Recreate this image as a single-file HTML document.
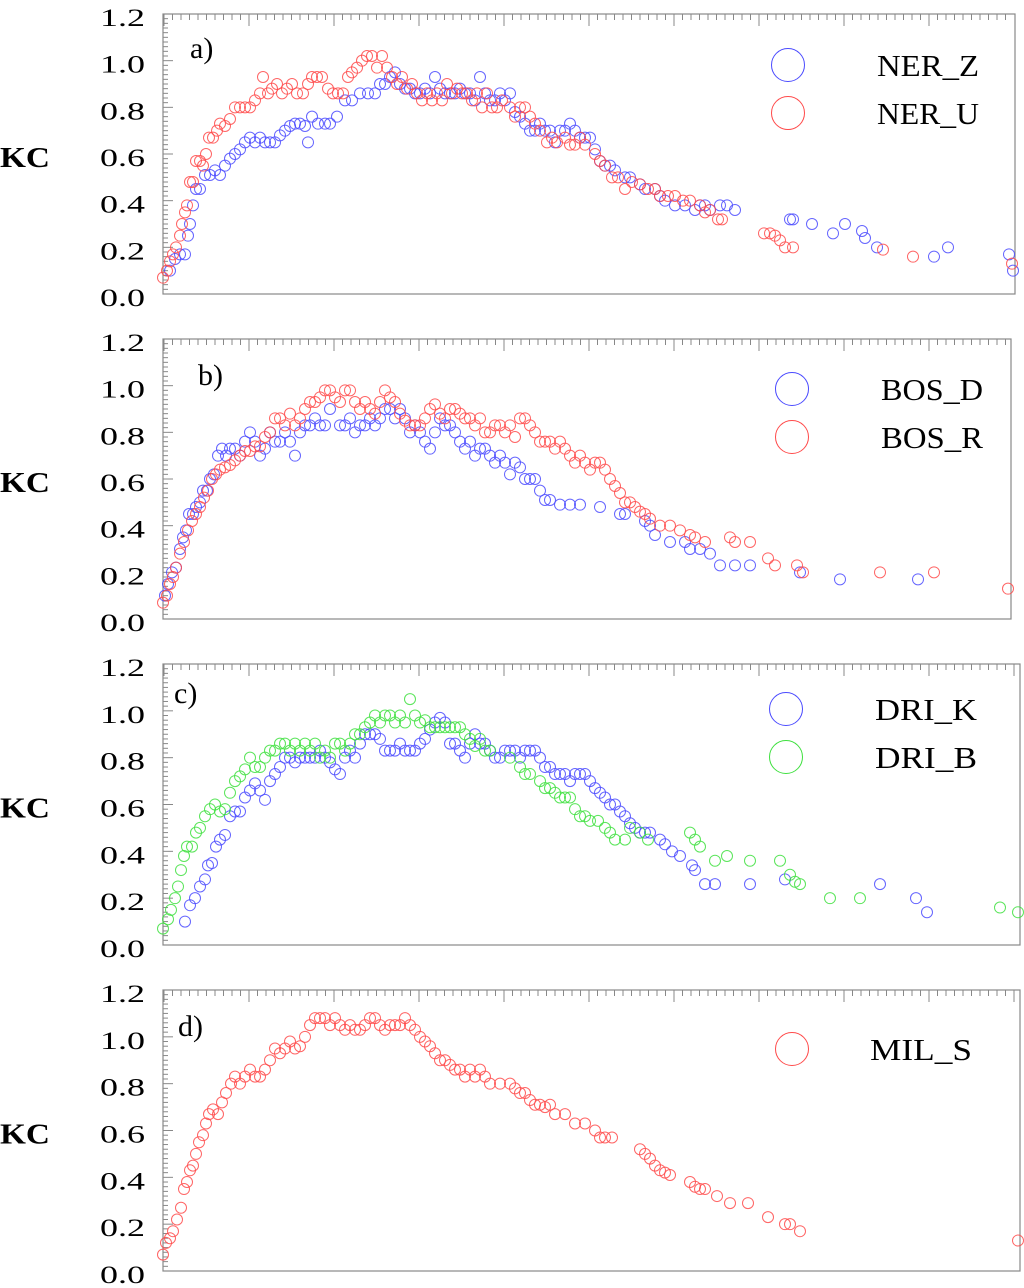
<!DOCTYPE html>
<html><head><meta charset="utf-8"><style>
body{margin:0;background:#fff}
svg{display:block}
text{font-family:"Liberation Serif",serif}
</style></head><body>
<svg id="chart" width="1024" height="1288" viewBox="0 0 1024 1288"></svg>
<script>
// Data: x = time index (domain 163..1015), y = KC
const nerZ=[[170,0.1],[175,0.15],[180,0.17],[185,0.17],[188,0.25],[190,0.3],[193,0.38],[196,0.45],[200,0.45],[205,0.51],[210,0.51],[215,0.53],[220,0.51],[225,0.55],[230,0.58],[235,0.6],[240,0.62],[245,0.65],[250,0.67],[255,0.65],[260,0.67],[265,0.65],[270,0.65],[275,0.65],[280,0.68],[285,0.7],[290,0.72],[295,0.73],[300,0.73],[305,0.72],[308,0.65],[312,0.76],[318,0.73],[325,0.73],[330,0.73],[337,0.76],[345,0.83],[352,0.83],[360,0.86],[368,0.86],[375,0.86],[380,0.9],[385,0.9],[390,0.93],[395,0.95],[400,0.9],[405,0.88],[410,0.88],[415,0.86],[420,0.86],[425,0.88],[430,0.86],[435,0.93],[440,0.88],[445,0.86],[450,0.86],[455,0.86],[460,0.88],[465,0.86],[470,0.86],[475,0.83],[480,0.93],[485,0.86],[490,0.83],[495,0.83],[500,0.86],[505,0.83],[510,0.86],[515,0.78],[520,0.76],[525,0.73],[530,0.7],[535,0.7],[540,0.73],[545,0.7],[550,0.7],[555,0.65],[560,0.7],[565,0.7],[570,0.73],[575,0.7],[580,0.67],[585,0.67],[590,0.67],[595,0.62],[600,0.57],[605,0.55],[610,0.55],[615,0.53],[625,0.5],[630,0.5],[640,0.47],[645,0.45],[655,0.45],[660,0.42],[665,0.4],[675,0.38],[685,0.38],[695,0.36],[700,0.38],[705,0.38],[710,0.36],[720,0.38],[727,0.38],[735,0.36],[790,0.32],[793,0.32],[812,0.3],[833,0.26],[845,0.3],[862,0.27],[865,0.24],[877,0.2],[934,0.16],[948,0.2],[1009,0.17],[1013,0.1]];
const nerU=[[163,0.07],[167,0.1],[170,0.14],[173,0.17],[176,0.2],[180,0.25],[182,0.3],[185,0.35],[187,0.38],[190,0.48],[193,0.48],[196,0.57],[200,0.57],[203,0.55],[206,0.6],[209,0.67],[213,0.67],[217,0.7],[220,0.73],[225,0.72],[230,0.75],[235,0.8],[240,0.8],[245,0.8],[250,0.8],[255,0.83],[260,0.86],[263,0.93],[268,0.86],[272,0.88],[277,0.9],[282,0.86],[287,0.88],[292,0.9],[297,0.86],[303,0.86],[308,0.9],[312,0.93],[317,0.93],[322,0.93],[328,0.88],[333,0.86],[338,0.86],[343,0.86],[348,0.93],[352,0.95],[357,0.97],[362,1.0],[367,1.02],[372,1.02],[377,0.97],[382,1.02],[387,0.97],[392,0.93],[397,0.9],[402,0.93],[407,0.88],[412,0.9],[417,0.86],[422,0.83],[427,0.86],[432,0.83],[437,0.86],[442,0.83],[447,0.9],[452,0.86],[457,0.88],[462,0.86],[467,0.86],[472,0.83],[477,0.86],[482,0.8],[487,0.86],[492,0.8],[497,0.8],[502,0.83],[510,0.8],[515,0.76],[520,0.8],[525,0.8],[530,0.76],[535,0.73],[540,0.7],[547,0.65],[552,0.67],[557,0.65],[565,0.67],[570,0.64],[575,0.64],[580,0.67],[585,0.64],[595,0.6],[600,0.57],[605,0.55],[612,0.5],[618,0.5],[625,0.45],[632,0.48],[640,0.47],[648,0.45],[655,0.45],[660,0.42],[668,0.42],[675,0.42],[683,0.4],[690,0.4],[700,0.38],[705,0.35],[710,0.36],[718,0.32],[722,0.32],[764,0.26],[770,0.26],[775,0.25],[780,0.23],[785,0.2],[793,0.2],[883,0.19],[913,0.16],[1012,0.13]];
const bosD=[[165,0.1],[168,0.15],[172,0.2],[176,0.22],[180,0.3],[183,0.35],[186,0.38],[189,0.45],[193,0.45],[196,0.48],[200,0.5],[203,0.55],[207,0.55],[210,0.6],[214,0.62],[218,0.7],[222,0.73],[226,0.7],[230,0.73],[235,0.73],[240,0.7],[245,0.76],[250,0.8],[255,0.76],[260,0.7],[265,0.73],[270,0.8],[275,0.76],[280,0.76],[285,0.8],[290,0.76],[295,0.7],[300,0.8],[305,0.83],[310,0.83],[315,0.86],[320,0.83],[325,0.83],[330,0.9],[340,0.83],[345,0.83],[350,0.86],[355,0.8],[360,0.83],[365,0.83],[370,0.86],[375,0.83],[380,0.86],[385,0.9],[390,0.9],[395,0.86],[400,0.9],[405,0.86],[410,0.8],[415,0.83],[420,0.8],[425,0.76],[430,0.73],[435,0.8],[440,0.86],[445,0.83],[450,0.83],[455,0.8],[460,0.76],[465,0.73],[470,0.76],[475,0.7],[480,0.73],[485,0.73],[490,0.7],[495,0.67],[500,0.7],[505,0.67],[510,0.62],[515,0.67],[520,0.65],[525,0.6],[530,0.6],[535,0.6],[540,0.55],[545,0.51],[550,0.51],[560,0.49],[570,0.49],[580,0.49],[600,0.48],[620,0.45],[625,0.45],[645,0.42],[650,0.4],[655,0.36],[670,0.33],[685,0.33],[690,0.3],[700,0.3],[710,0.28],[720,0.23],[735,0.23],[750,0.23],[800,0.2],[840,0.17],[918,0.17]];
const bosR=[[163,0.07],[167,0.1],[170,0.15],[173,0.18],[176,0.22],[180,0.28],[184,0.33],[188,0.38],[192,0.42],[196,0.45],[200,0.48],[204,0.52],[208,0.55],[212,0.6],[216,0.62],[220,0.64],[225,0.65],[230,0.66],[235,0.68],[240,0.7],[245,0.72],[250,0.72],[255,0.74],[260,0.74],[265,0.78],[270,0.8],[275,0.86],[280,0.86],[285,0.83],[290,0.88],[295,0.83],[300,0.86],[305,0.9],[310,0.93],[315,0.93],[320,0.95],[325,0.98],[330,0.98],[335,0.95],[340,0.93],[345,0.98],[350,0.98],[355,0.93],[360,0.9],[365,0.93],[370,0.9],[375,0.88],[380,0.93],[385,0.98],[390,0.95],[395,0.93],[400,0.88],[405,0.85],[410,0.83],[415,0.83],[420,0.83],[425,0.86],[430,0.9],[435,0.92],[440,0.88],[445,0.86],[450,0.9],[455,0.9],[460,0.88],[465,0.86],[470,0.86],[475,0.83],[480,0.86],[485,0.8],[490,0.8],[495,0.83],[500,0.83],[505,0.8],[510,0.83],[515,0.78],[520,0.86],[525,0.86],[530,0.83],[535,0.8],[540,0.76],[545,0.76],[550,0.76],[555,0.73],[560,0.76],[565,0.73],[570,0.7],[575,0.67],[580,0.7],[585,0.67],[590,0.64],[595,0.67],[600,0.67],[605,0.64],[610,0.6],[615,0.57],[620,0.54],[625,0.5],[630,0.5],[635,0.48],[640,0.46],[645,0.45],[650,0.43],[660,0.4],[670,0.4],[680,0.38],[690,0.36],[695,0.35],[705,0.33],[730,0.35],[735,0.33],[750,0.33],[768,0.26],[775,0.23],[797,0.23],[803,0.2],[880,0.2],[934,0.2],[1008,0.13]];
const driK=[[185,0.1],[190,0.17],[195,0.2],[200,0.25],[205,0.28],[208,0.34],[212,0.35],[216,0.42],[220,0.45],[225,0.47],[230,0.55],[235,0.57],[240,0.57],[245,0.63],[250,0.66],[255,0.69],[260,0.66],[265,0.62],[270,0.7],[275,0.73],[280,0.76],[285,0.8],[290,0.8],[295,0.78],[300,0.8],[305,0.8],[310,0.8],[315,0.8],[320,0.83],[325,0.8],[330,0.78],[335,0.75],[340,0.73],[345,0.8],[350,0.83],[355,0.8],[360,0.86],[365,0.9],[370,0.9],[375,0.9],[380,0.88],[385,0.83],[390,0.83],[395,0.83],[400,0.86],[405,0.83],[410,0.83],[415,0.83],[420,0.86],[425,0.88],[430,0.92],[435,0.95],[440,0.97],[445,0.95],[450,0.86],[455,0.86],[460,0.83],[465,0.8],[470,0.86],[475,0.9],[480,0.86],[485,0.86],[490,0.83],[495,0.8],[500,0.8],[505,0.83],[510,0.83],[515,0.83],[520,0.8],[525,0.83],[530,0.83],[535,0.83],[540,0.8],[545,0.76],[550,0.76],[555,0.73],[560,0.73],[565,0.73],[570,0.7],[575,0.73],[580,0.73],[585,0.73],[590,0.7],[595,0.67],[600,0.65],[605,0.63],[610,0.6],[615,0.6],[620,0.57],[625,0.55],[630,0.52],[635,0.5],[640,0.48],[645,0.48],[650,0.48],[660,0.45],[665,0.43],[672,0.4],[680,0.38],[692,0.34],[695,0.32],[705,0.26],[715,0.26],[750,0.26],[785,0.28],[880,0.26],[916,0.2],[927,0.14]];
const driB=[[163,0.07],[168,0.11],[171,0.15],[175,0.2],[178,0.25],[181,0.32],[184,0.38],[187,0.42],[192,0.42],[196,0.48],[200,0.5],[205,0.55],[210,0.58],[215,0.6],[220,0.57],[225,0.58],[230,0.65],[235,0.7],[240,0.72],[245,0.75],[250,0.8],[255,0.76],[260,0.76],[265,0.8],[270,0.83],[275,0.83],[280,0.86],[285,0.86],[290,0.83],[295,0.86],[300,0.83],[305,0.86],[310,0.83],[315,0.86],[320,0.8],[325,0.83],[330,0.8],[335,0.86],[340,0.86],[345,0.83],[350,0.86],[355,0.9],[360,0.9],[365,0.93],[370,0.95],[375,0.98],[380,0.95],[385,0.98],[390,0.98],[395,0.95],[400,0.98],[405,0.95],[410,1.05],[415,0.98],[420,0.95],[425,0.96],[430,0.93],[435,0.93],[440,0.93],[445,0.93],[450,0.93],[455,0.93],[460,0.93],[465,0.9],[470,0.88],[475,0.85],[480,0.88],[485,0.83],[490,0.83],[510,0.8],[520,0.76],[525,0.73],[530,0.73],[540,0.7],[545,0.67],[550,0.67],[555,0.65],[560,0.63],[565,0.63],[570,0.63],[575,0.58],[580,0.55],[585,0.55],[590,0.53],[598,0.53],[605,0.5],[610,0.48],[615,0.45],[625,0.45],[630,0.5],[640,0.48],[648,0.45],[690,0.48],[695,0.45],[700,0.42],[715,0.36],[727,0.38],[750,0.36],[780,0.36],[790,0.3],[795,0.27],[800,0.26],[830,0.2],[860,0.2],[1000,0.16],[1018,0.14]];
const milS=[[163,0.07],[166,0.12],[170,0.14],[173,0.17],[177,0.22],[181,0.27],[184,0.35],[187,0.38],[190,0.43],[193,0.45],[196,0.5],[199,0.55],[203,0.58],[206,0.63],[209,0.67],[213,0.69],[218,0.67],[222,0.72],[226,0.76],[231,0.8],[235,0.83],[240,0.8],[245,0.83],[250,0.86],[255,0.83],[260,0.83],[265,0.86],[270,0.9],[275,0.95],[280,0.93],[285,0.95],[290,0.98],[295,0.95],[300,0.96],[305,1.0],[310,1.05],[315,1.08],[320,1.08],[325,1.08],[330,1.05],[335,1.08],[340,1.05],[345,1.03],[350,1.05],[355,1.03],[360,1.03],[365,1.05],[370,1.08],[375,1.08],[380,1.05],[385,1.03],[390,1.05],[395,1.05],[400,1.05],[405,1.08],[410,1.05],[415,1.03],[420,1.0],[425,0.98],[430,0.96],[435,0.93],[440,0.9],[445,0.9],[450,0.88],[455,0.86],[460,0.86],[465,0.83],[470,0.86],[475,0.83],[480,0.86],[485,0.83],[490,0.8],[500,0.8],[510,0.8],[515,0.78],[520,0.76],[525,0.76],[530,0.73],[535,0.71],[540,0.71],[545,0.7],[550,0.71],[555,0.67],[565,0.67],[575,0.63],[585,0.63],[595,0.6],[600,0.57],[605,0.57],[612,0.57],[640,0.52],[645,0.5],[650,0.48],[655,0.45],[660,0.43],[665,0.42],[670,0.41],[690,0.38],[695,0.36],[700,0.35],[705,0.35],[717,0.32],[730,0.29],[748,0.29],[768,0.23],[785,0.2],[790,0.2],[800,0.17],[1018,0.13]];
const yTicks=["0.0","0.2","0.4","0.6","0.8","1.0","1.2"];
const panelLabels=["a)","b)","c)","d)"];

const BLUE="#4a4aff",RED="#ff4a4a",GREEN="#3ee03e";
const panels=[
 {top:14,bottom:294,right:1015,label:[190,58],leg:{cx:788,tx:877,y:[65,113]},series:[{name:"NER_Z",data:nerZ,c:BLUE},{name:"NER_U",data:nerU,c:RED}]},
 {top:339,bottom:619,right:1011,label:[198,385],leg:{cx:792,tx:881,y:[389,437]},series:[{name:"BOS_D",data:bosD,c:BLUE},{name:"BOS_R",data:bosR,c:RED}]},
 {top:664,bottom:945,right:1020,label:[174,703],leg:{cx:786,tx:875,y:[709,757]},series:[{name:"DRI_K",data:driK,c:BLUE},{name:"DRI_B",data:driB,c:GREEN}]},
 {top:990,bottom:1271,right:1020,label:[178,1036],leg:{cx:792,tx:870,y:[1049]},series:[{name:"MIL_S",data:milS,c:RED}]}
];
const svg=document.getElementById('chart');
const NS="http://www.w3.org/2000/svg";
function mk(tag,attrs,parent){const e=document.createElementNS(NS,tag);for(const k in attrs)e.setAttribute(k,attrs[k]);(parent||svg).appendChild(e);return e;}
const LEFT=163,XMIN=163,XMAX=1015;
panels.forEach((p,i)=>{
  const g=mk('g',{});
  
  
  const xs=v=>LEFT+(v-XMIN)/(XMAX-XMIN)*(1015-LEFT);
  const ys=v=>p.bottom-v/1.2*(p.bottom-p.top);
  const box=mk('rect',{x:LEFT,y:p.top,width:p.right-LEFT,height:p.bottom-p.top,fill:'none',stroke:'#888','stroke-width':1.2},g);
  
  
  for(let k=0;k<=60;k++){const y=ys(k*0.02);const len=k%10===0?10:5;mk('line',{x1:LEFT,x2:LEFT+len,y1:y,y2:y,stroke:'#888','stroke-width':1},g);}
  for(let k=0;;k++){const x=LEFT+1+k*8.5;if(x>p.right-2)break;const len=k%10===0?12:6;mk('line',{x1:x,x2:x,y1:p.top,y2:p.top+len,stroke:'#888','stroke-width':1},g);}
  yTicks.forEach((t,k)=>{const tx=mk('text',{x:100,y:ys(k*0.2)+12,'font-size':25,textLength:45,lengthAdjust:'spacingAndGlyphs',fill:'#000'},g);tx.textContent=t;
    
    });
  const kc=mk('text',{x:0,y:(p.top+p.bottom)/2+13,'font-size':28,'font-weight':'bold',textLength:50,lengthAdjust:'spacingAndGlyphs',fill:'#000'},g);kc.textContent="KC";
  
  
  const pl=mk('text',{x:p.label[0],y:p.label[1],'font-size':30,fill:'#000'},g);pl.textContent=panelLabels[i];
  
  
  p.series.forEach((s,j)=>{
    const sg=mk('g',{},g);
    
    
    s.data.forEach(d=>{const c=mk('circle',{cx:xs(d[0]),cy:ys(d[1]),r:5.5,fill:'none',stroke:s.c,'stroke-width':1,'stroke-opacity':0.85},sg);
      
      });
    const lg=mk('g',{},g);
    
    
    mk('circle',{cx:p.leg.cx,cy:p.leg.y[j],r:16.5,fill:'none',stroke:s.c,'stroke-width':1},lg);
    const lt=mk('text',{x:p.leg.tx,y:p.leg.y[j]+11,'font-size':31,textLength:102,lengthAdjust:'spacingAndGlyphs',fill:'#000'},lg);lt.textContent=s.name;
  });
});
</script>
</body></html>
